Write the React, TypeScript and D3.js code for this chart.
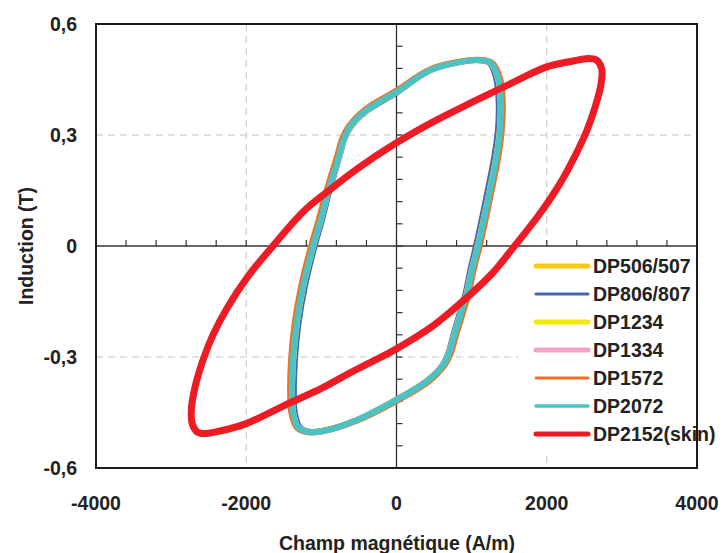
import React from "react";
import * as d3 from "d3";

const xTicks = [-4000, -2000, 0, 2000, 4000];
const yTicks = [-0.6, -0.3, 0, 0.3, 0.6];
const xTickLabels = ["-4000", "-2000", "0", "2000", "4000"];
const yTickLabels = ["-0,6", "-0,3", "0", "0,3", "0,6"];

const seriesNames = ["DP506/507", "DP806/807", "DP1234", "DP1334", "DP1572", "DP2072", "DP2152(skin)"];
const seriesColors = ["#FFC90E", "#4466B0", "#F2EA0A", "#F4A3C6", "#F07028", "#4CC3C3", "#ED1C24"];

const dp506: [number, number][] = [
  [1392, 0.4], [1354, 0.455], [1262, 0.494], [1120, 0.502], [900, 0.499], [450, 0.476], [0, 0.417], [-402, 0.367],
  [-624, 0.322], [-704, 0.29], [-774, 0.24], [-849, 0.19], [-915, 0.146], [-1014, 0.07], [-1115, 0], [-1249, -0.11],
  [-1334, -0.21], [-1382, -0.308], [-1395, -0.39], [-1380, -0.45], [-1312, -0.49], [-1190, -0.502], [-980, -0.5],
  [-526, -0.47], [0, -0.416], [422, -0.363], [624, -0.322], [704, -0.29], [774, -0.24], [849, -0.19], [941, -0.127],
  [1013, -0.06], [1089, 0], [1249, 0.151], [1334, 0.24], [1382, 0.313],
];
const dp806: [number, number][] = [
  [1358, 0.4], [1325, 0.455], [1242, 0.494], [1100, 0.502], [890, 0.499], [440, 0.474], [0, 0.414], [-398, 0.365],
  [-615, 0.32], [-694, 0.288], [-762, 0.24], [-835, 0.19], [-898, 0.146], [-992, 0.07], [-1090, 0], [-1220, -0.11],
  [-1305, -0.21], [-1352, -0.308], [-1366, -0.39], [-1354, -0.45], [-1290, -0.49], [-1170, -0.502], [-970, -0.5],
  [-520, -0.47], [0, -0.415], [415, -0.363], [612, -0.322], [690, -0.29], [758, -0.24], [830, -0.19], [920, -0.127],
  [988, -0.06], [1058, 0], [1215, 0.151], [1300, 0.24], [1350, 0.313],
];
const dp1234: [number, number][] = [
  [1384, 0.4], [1348, 0.455], [1258, 0.494], [1118, 0.502], [898, 0.499], [448, 0.475], [0, 0.416], [-400, 0.366],
  [-618, 0.321], [-698, 0.289], [-768, 0.24], [-843, 0.19], [-909, 0.146], [-1008, 0.07], [-1108, 0], [-1242, -0.11],
  [-1327, -0.21], [-1375, -0.308], [-1390, -0.39], [-1376, -0.45], [-1308, -0.49], [-1188, -0.502], [-980, -0.5],
  [-525, -0.47], [0, -0.416], [419, -0.363], [618, -0.322], [698, -0.29], [768, -0.24], [843, -0.19], [935, -0.127],
  [1007, -0.06], [1082, 0], [1242, 0.151], [1327, 0.24], [1375, 0.313],
];
const dp1334: [number, number][] = [
  [1386, 0.4], [1350, 0.455], [1259, 0.494], [1119, 0.502], [899, 0.499], [449, 0.475], [0, 0.416], [-401, 0.367],
  [-619, 0.321], [-699, 0.289], [-769, 0.24], [-844, 0.19], [-910, 0.146], [-1009, 0.07], [-1110, 0], [-1244, -0.11],
  [-1329, -0.21], [-1377, -0.308], [-1391, -0.39], [-1377, -0.45], [-1309, -0.49], [-1189, -0.502], [-980, -0.5],
  [-526, -0.47], [0, -0.416], [420, -0.363], [619, -0.322], [699, -0.29], [769, -0.24], [844, -0.19], [937, -0.127],
  [1009, -0.06], [1084, 0], [1244, 0.151], [1329, 0.24], [1377, 0.313],
];
const dp1572: [number, number][] = [
  [1412, 0.4], [1376, 0.455], [1280, 0.494], [1130, 0.503], [900, 0.5], [452, 0.478], [0, 0.42], [-410, 0.37],
  [-640, 0.322], [-722, 0.29], [-794, 0.24], [-870, 0.19], [-936, 0.146], [-1036, 0.07], [-1137, 0], [-1270, -0.11],
  [-1356, -0.21], [-1404, -0.308], [-1416, -0.39], [-1400, -0.45], [-1330, -0.49], [-1200, -0.503], [-990, -0.5],
  [-530, -0.472], [0, -0.419], [430, -0.366], [640, -0.322], [722, -0.29], [794, -0.24], [870, -0.19], [960, -0.127],
  [1032, -0.06], [1108, 0], [1268, 0.151], [1354, 0.24], [1402, 0.313],
];
const dp2072: [number, number][] = [
  [1388, 0.4], [1352, 0.455], [1260, 0.494], [1120, 0.502], [900, 0.499], [450, 0.475], [0, 0.416], [-400, 0.367],
  [-620, 0.322], [-700, 0.29], [-770, 0.24], [-845, 0.19], [-911, 0.146], [-1010, 0.07], [-1111, 0], [-1245, -0.11],
  [-1330, -0.21], [-1378, -0.308], [-1392, -0.39], [-1378, -0.45], [-1310, -0.49], [-1190, -0.502], [-980, -0.5],
  [-526, -0.47], [0, -0.416], [420, -0.363], [620, -0.322], [700, -0.29], [770, -0.24], [845, -0.19], [938, -0.127],
  [1010, -0.06], [1085, 0], [1245, 0.151], [1330, 0.24], [1378, 0.313],
];
const dp2152: [number, number][] = [
  [2725, 0.44], [2730, 0.48], [2660, 0.503], [2550, 0.507], [2350, 0.5], [2000, 0.484], [1500, 0.437], [1000, 0.388],
  [500, 0.337], [0, 0.279], [-486, 0.214], [-925, 0.146], [-1245, 0.092], [-1658, -0.003], [-1977, -0.082],
  [-2256, -0.168], [-2442, -0.24], [-2575, -0.308], [-2680, -0.38], [-2730, -0.44], [-2720, -0.48], [-2650, -0.503],
  [-2560, -0.507], [-2350, -0.5], [-2000, -0.48], [-1420, -0.424], [-1000, -0.385], [-620, -0.343], [-300, -0.31],
  [0, -0.278], [485, -0.216], [900, -0.146], [1270, -0.075], [1560, -0.003], [1900, 0.085], [2180, 0.17],
  [2380, 0.245], [2530, 0.31], [2650, 0.38],
];

const seriesData = [dp506, dp806, dp1234, dp1334, dp1572, dp2072, dp2152];
const plotWidths = [6, 6, 6, 6, 6, 6, 7];
const legendWidths = [5, 3, 5, 5, 3, 3.5, 5];

const FONT = "'Liberation Sans', Arial, sans-serif";

export default function App() {
  const x = d3.scaleLinear().domain([-4000, 4000]).range([96, 697]);
  const y = d3.scaleLinear().domain([-0.6, 0.6]).range([468, 24]);
  const line = d3
    .line<[number, number]>()
    .x((d) => x(d[0]))
    .y((d) => y(d[1]))
    .curve(d3.curveCatmullRomClosed.alpha(0.5));

  const hMinor = d3.range(-4000, 4001, 400);
  const vMinor = d3.range(-10, 11).map((i) => i * 0.06);

  return (
    <svg
      width={725}
      height={553}
      style={{ position: "absolute", left: 0, top: 0, background: "#fff" }}
      fontFamily={FONT}
      fontWeight="bold"
    >
      {[-2000, 2000].map((v) => (
        <line key={"gx" + v} x1={x(v)} x2={x(v)} y1={y(0.6)} y2={y(-0.6)} stroke="#c4c4c4" strokeWidth={1} strokeDasharray="7,5" />
      ))}
      {[-0.3, 0.3].map((v) => (
        <line key={"gy" + v} x1={x(-4000)} x2={x(4000)} y1={y(v)} y2={y(v)} stroke="#c4c4c4" strokeWidth={1} strokeDasharray="7,5" />
      ))}
      <line x1={x(-4000)} x2={x(4000)} y1={y(0)} y2={y(0)} stroke="#333" strokeWidth={1.3} />
      <line x1={x(0)} x2={x(0)} y1={y(0.6)} y2={y(-0.6)} stroke="#333" strokeWidth={1.3} />
      {hMinor.map((v) => (
        <line key={"ht" + v} x1={x(v)} x2={x(v)} y1={y(0)} y2={y(0) - 6} stroke="#333" strokeWidth={1.2} />
      ))}
      {vMinor.map((v, i) => (
        <line key={"vt" + i} x1={x(0)} x2={x(0) + 6} y1={y(v)} y2={y(v)} stroke="#333" strokeWidth={1.2} />
      ))}
      {seriesData.map((d, i) => (
        <path key={seriesNames[i]} d={line(d) || ""} fill="none" stroke={seriesColors[i]} strokeWidth={plotWidths[i]} strokeLinejoin="round" />
      ))}
      <rect x={518} y={252} width={177} height={200} fill="#fff" />
      {seriesNames.map((n, i) => {
        const ly = 266 + i * 28;
        return (
          <g key={"lg" + n}>
            <line x1={536} x2={588} y1={ly} y2={ly} stroke={seriesColors[i]} strokeWidth={legendWidths[i]} strokeLinecap="round" />
            <text x={593} y={ly} dominantBaseline="central" fontSize={19.5} fill="#222">
              {n}
            </text>
          </g>
        );
      })}
      <rect x={x(-4000)} y={y(0.6)} width={x(4000) - x(-4000)} height={y(-0.6) - y(0.6)} fill="none" stroke="#1a1a1a" strokeWidth={2} />
      {xTicks.map((v, i) => (
        <text key={"xl" + v} x={x(v)} y={503} textAnchor="middle" dominantBaseline="central" fontSize={19.5} fill="#222">
          {xTickLabels[i]}
        </text>
      ))}
      {yTicks.map((v, i) => (
        <text key={"yl" + v} x={77} y={y(v)} textAnchor="end" dominantBaseline="central" fontSize={19.5} fill="#222">
          {yTickLabels[i]}
        </text>
      ))}
      <text x={397} y={543} textAnchor="middle" dominantBaseline="central" fontSize={19.5} fill="#222">
        Champ magnétique (A/m)
      </text>
      <text
        transform={`translate(26,246) rotate(-90)`}
        textAnchor="middle"
        dominantBaseline="central"
        fontSize={19.5}
        fill="#222"
      >
        Induction (T)
      </text>
    </svg>
  );
}
